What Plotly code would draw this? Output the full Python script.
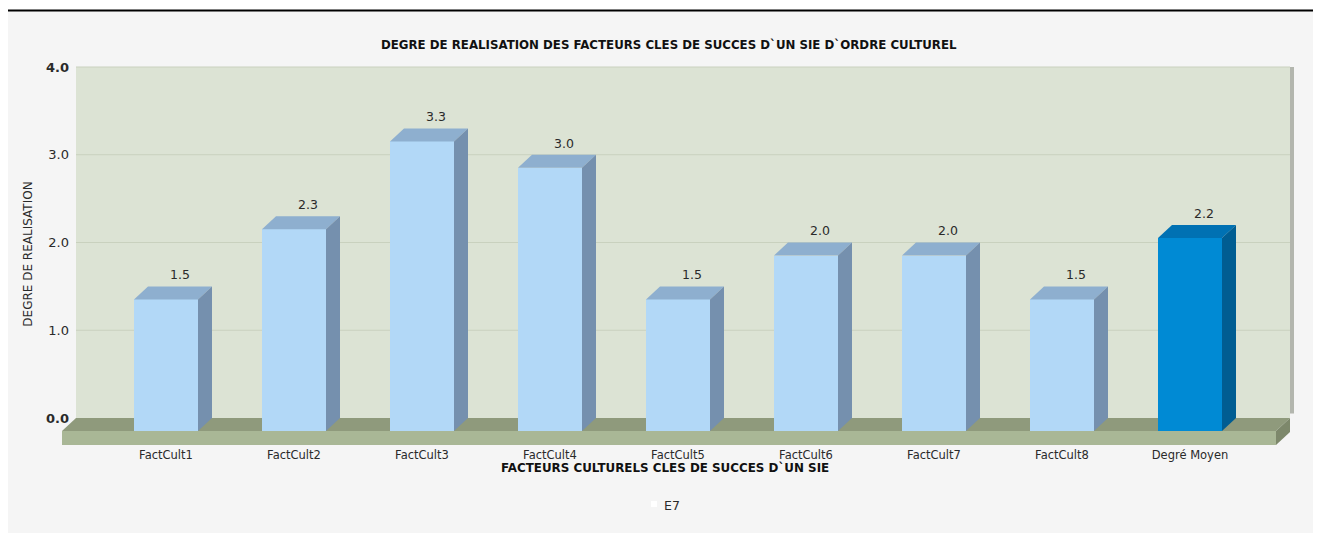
import plotly.graph_objects as go

# ---------------- data ----------------
categories = ["FactCult1", "FactCult2", "FactCult3", "FactCult4", "FactCult5",
              "FactCult6", "FactCult7", "FactCult8", "Degré Moyen"]
values = [1.5, 2.3, 3.3, 3.0, 1.5, 2.0, 2.0, 1.5, 2.2]
highlight = [False, False, False, False, False, False, False, False, True]
y_ticks = [0, 1, 2, 3, 4]
y_tick_text = ["<b>0.0</b>", "1.0", "2.0", "3.0", "<b>4.0</b>"]
series_name = "E7"
title_text = "DEGRE DE REALISATION DES FACTEURS CLES DE SUCCES D`UN SIE D`ORDRE CULTUREL"
x_title = "FACTEURS CULTURELS CLES DE SUCCES D`UN SIE"
y_title = "DEGRE DE REALISATION"

# ---------------- geometry / style (figure pixels; page has an 8px body margin) ----------------
W, H = 1313, 525
L, R, T, B = 54, 27, 54, 87
PXX, PXY = 128.0, 87.75          # pixels per data unit
X0_PX, Y0_PX = 158, 410          # pixel of x=0 (front centre), y=0 (wall bottom)
DX = 14 / PXX                     # depth offset in x units
DY = 13 / PXY                     # depth offset in y units
FLOOR_T = 14 / PXY                # floor thickness
BAR_W = 64 / PXX
LABEL_LIFT = 4 / PXY

x_lo = (L - X0_PX) / PXX
x_hi = (W - R - X0_PX) / PXX
y_lo = -((H - B) - Y0_PX) / PXY
y_hi = (Y0_PX - T) / PXY
wall_l = x_lo + DX
wall_r = x_hi - 4 / PXX

FONT = "DejaVu Sans"
C_TEXT = "#2a2a2a"
C_WALL = "#dce3d4"
C_GRID = "#c9d1be"
C_FLOOR_TOP = "#8f9a7c"
C_FLOOR_FRONT = "#a9b796"
C_FLOOR_SIDE = "#7d886b"
C_LIGHT = ("#b2d8f7", "#8eafcf", "#7590ae")
C_DARK = ("#008ad4", "#0071b3", "#005d92")


def px2paper_x(p):
    return (p - L) / (W - L - R)


def px2paper_y(p):
    return ((H - B) - p) / (H - T - B)


fig = go.Figure()

idx = list(range(len(categories)))

# front faces
fig.add_trace(go.Bar(
    x=idx, y=values, base=-DY, width=BAR_W,
    marker=dict(color=[C_DARK[0] if h else C_LIGHT[0] for h in highlight], line=dict(width=0)),
    showlegend=False, hoverinfo="skip",
))

# top and side faces
for i, (v, h) in enumerate(zip(values, highlight)):
    cols = C_DARK if h else C_LIGHT
    xl, xr = i - BAR_W / 2, i + BAR_W / 2
    fig.add_trace(go.Scatter(
        x=[xl, xr, xr + DX, xl + DX, xl],
        y=[v - DY, v - DY, v, v, v - DY],
        fill="toself", fillcolor=cols[1], mode="none",
        showlegend=False, hoverinfo="skip"))
    fig.add_trace(go.Scatter(
        x=[xr, xr, xr + DX, xr + DX, xr],
        y=[-DY, v - DY, v, 0, -DY],
        fill="toself", fillcolor=cols[2], mode="none",
        showlegend=False, hoverinfo="skip"))

# value labels
fig.add_trace(go.Scatter(
    x=[i + DX for i in idx], y=[v + LABEL_LIFT for v in values], mode="text",
    text=[f"{v:.1f}" for v in values], textposition="top center",
    textfont=dict(family=FONT, size=12.5, color=C_TEXT),
    showlegend=False, hoverinfo="skip", cliponaxis=False))

shapes = []
# page frame
shapes.append(dict(type="rect", xref="paper", yref="paper",
                   x0=px2paper_x(0), x1=px2paper_x(W), y0=px2paper_y(2), y1=px2paper_y(0),
                   fillcolor="white", line=dict(width=0), layer="below"))
shapes.append(dict(type="line", xref="paper", yref="paper",
                   x0=px2paper_x(0), x1=px2paper_x(W), y0=px2paper_y(2.5), y1=px2paper_y(2.5),
                   line=dict(color="black", width=2), layer="below"))
# wall
shapes.append(dict(type="rect", xref="x", yref="y", x0=wall_l, x1=wall_r, y0=0, y1=4,
                   fillcolor=C_WALL, line=dict(width=0), layer="below"))
shapes.append(dict(type="rect", xref="x", yref="y", x0=wall_r, x1=x_hi, y0=0.05, y1=4,
                   fillcolor="#b3b6ae", line=dict(width=0), layer="below"))
for g in y_ticks[1:]:
    shapes.append(dict(type="line", xref="x", yref="y", x0=wall_l, x1=wall_r, y0=g, y1=g,
                       line=dict(color=C_GRID, width=1), layer="below"))
# floor
shapes.append(dict(type="path", xref="x", yref="y", layer="below",
                   path=f"M{wall_l},0 L{wall_r},0 L{wall_r - DX},{-DY} L{wall_l - DX},{-DY} Z",
                   fillcolor=C_FLOOR_TOP, line=dict(width=0)))
shapes.append(dict(type="rect", xref="x", yref="y", layer="below",
                   x0=wall_l - DX, x1=wall_r - DX, y0=-DY - FLOOR_T, y1=-DY,
                   fillcolor=C_FLOOR_FRONT, line=dict(width=0)))
shapes.append(dict(type="path", xref="x", yref="y", layer="below",
                   path=f"M{wall_r},0 L{wall_r},{-FLOOR_T} L{wall_r - DX},{-DY - FLOOR_T} L{wall_r - DX},{-DY} Z",
                   fillcolor=C_FLOOR_SIDE, line=dict(width=0)))
# legend swatch
shapes.append(dict(type="rect", xref="paper", yref="paper",
                   x0=px2paper_x(643), x1=px2paper_x(649), y0=px2paper_y(499), y1=px2paper_y(493),
                   fillcolor="white", line=dict(width=0)))

annotations = [
    dict(text=f"<b>{title_text}</b>", xref="paper", yref="paper",
         x=px2paper_x(661), y=px2paper_y(37), showarrow=False,
         xanchor="center", yanchor="middle",
         font=dict(family=FONT, size=11.8, color="#111")),
    dict(text=f"<b>{x_title}</b>", xref="paper", yref="paper",
         x=px2paper_x(657), y=px2paper_y(460), showarrow=False,
         xanchor="center", yanchor="middle",
         font=dict(family=FONT, size=11.9, color="#111")),
    dict(text=series_name, xref="paper", yref="paper",
         x=px2paper_x(664), y=px2paper_y(497), showarrow=False,
         xanchor="center", yanchor="middle",
         font=dict(family=FONT, size=12.5, color=C_TEXT)),
]

fig.update_layout(
    width=W, height=H, autosize=False,
    margin=dict(l=L, r=R, t=T, b=B, pad=0),
    paper_bgcolor="#f5f5f5", plot_bgcolor="rgba(0,0,0,0)",
    shapes=shapes, annotations=annotations,
    showlegend=False, bargap=0,
    xaxis=dict(range=[x_lo, x_hi], tickvals=idx, ticktext=categories,
               showgrid=False, zeroline=False, showline=False, ticks="",
               tickfont=dict(family=FONT, size=11.5, color=C_TEXT), fixedrange=True),
    yaxis=dict(range=[y_lo, y_hi], tickvals=y_ticks, ticktext=y_tick_text,
               showgrid=False, zeroline=False, showline=False, ticks="",
               ticklabelstandoff=-8,
               tickfont=dict(family=FONT, size=13, color=C_TEXT),
               title=dict(text=y_title, font=dict(family=FONT, size=12, color=C_TEXT), standoff=10),
               fixedrange=True),
)

fig.write_html("out.html")
